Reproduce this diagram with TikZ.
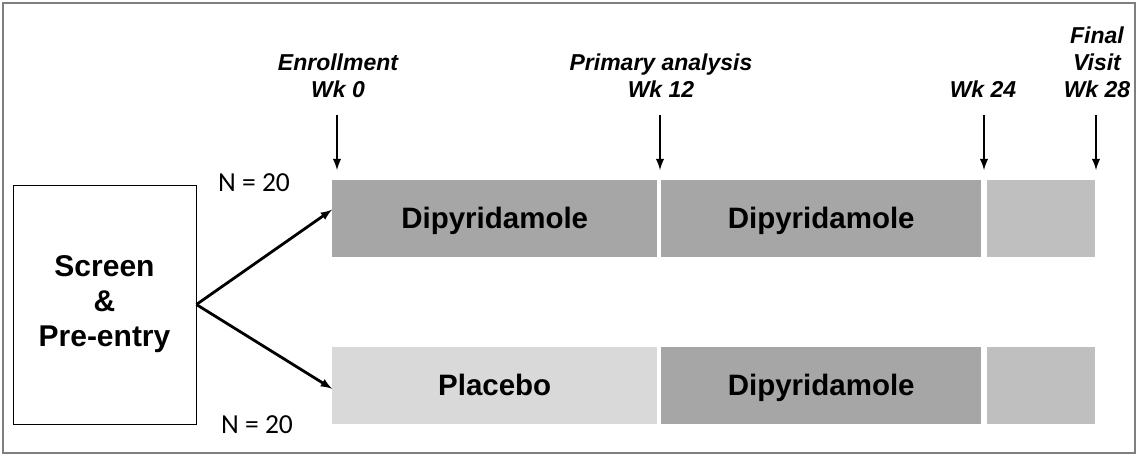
\documentclass[tikz,border=0pt]{standalone}
\usepackage{fontspec}
\setmainfont{Liberation Sans}
\newfontfamily\carlito{Carlito}
\definecolor{dipy}{HTML}{A6A6A6}
\definecolor{follow}{HTML}{BFBFBF}
\definecolor{plac}{HTML}{D9D9D9}
\definecolor{frame}{HTML}{7F7F7F}
\tikzset{
  bar/.style={minimum height=77pt, inner sep=0pt, anchor=north west,
    text height=23pt, text depth=4pt,
    font=\fontsize{29.5}{34}\selectfont\bfseries},
  milestone/.style={font=\fontsize{23}{27}\selectfont\bfseries\itshape,
    align=center, anchor=south, inner sep=0pt},
  count/.style={font=\carlito\fontsize{27.5}{30}\selectfont},
}
\begin{document}
\begin{tikzpicture}[x=1pt,y=-1pt]
    \useasboundingbox (0,0) rectangle (1138,455);
    \draw[frame, line width=1.5pt] (3,3) rectangle (1135,453);
    % screening box
    \node[draw, line width=0.8pt, minimum width=183pt, minimum height=239pt,
      align=center, font=\fontsize{30}{35}\selectfont\bfseries]
      (screen) at (104.5,304.5) {Screen\\\&\\Pre-entry};
    % arms
    \node[bar, fill=dipy, minimum width=325pt] (d1) at (332,180) {Dipyridamole};
    \node[bar, fill=dipy, minimum width=320pt] (d2) at (661,180) {Dipyridamole};
    \node[bar, fill=follow, minimum width=108pt] (f1) at (987,180) {};
    \node[bar, fill=plac, minimum width=325pt] (p1) at (332,347) {Placebo};
    \node[bar, fill=dipy, minimum width=320pt] (d3) at (661,347) {Dipyridamole};
    \node[bar, fill=follow, minimum width=108pt] (f2) at (987,347) {};
    \node[count] (ntop) at (254,183) {N = 20};
    \node[count] (nbot) at (257,425) {N = 20};
    % time points
    \coordinate (w0) at (337,115);
    \coordinate (w12) at (660,115);
    \coordinate (w24) at (984,115);
    \coordinate (w28) at (1096,115);
    \node[milestone] (lw0) at (338,98) {Enrollment\\Wk 0};
    \node[milestone] (lw12) at (661,98) {Primary analysis\\Wk 12};
    \node[milestone] (lw24) at (983,98) {Wk 24};
    \node[milestone] (lw28) at (1097,98) {Final\\Visit\\Wk 28};
    \begin{scope}[-latex, line width=2.8pt]
      \draw (screen.east) -- ([yshift=9pt]d1.west);
      \draw (screen.east) -- ([yshift=-3pt]p1.west);
      \draw (w0) -- (w0 |- 0,170);
      \draw (w12) -- (w12 |- 0,170);
      \draw (w24) -- (w24 |- 0,170);
      \draw (w28) -- (w28 |- 0,170);
    \end{scope}
  \end{tikzpicture}
\end{document}
